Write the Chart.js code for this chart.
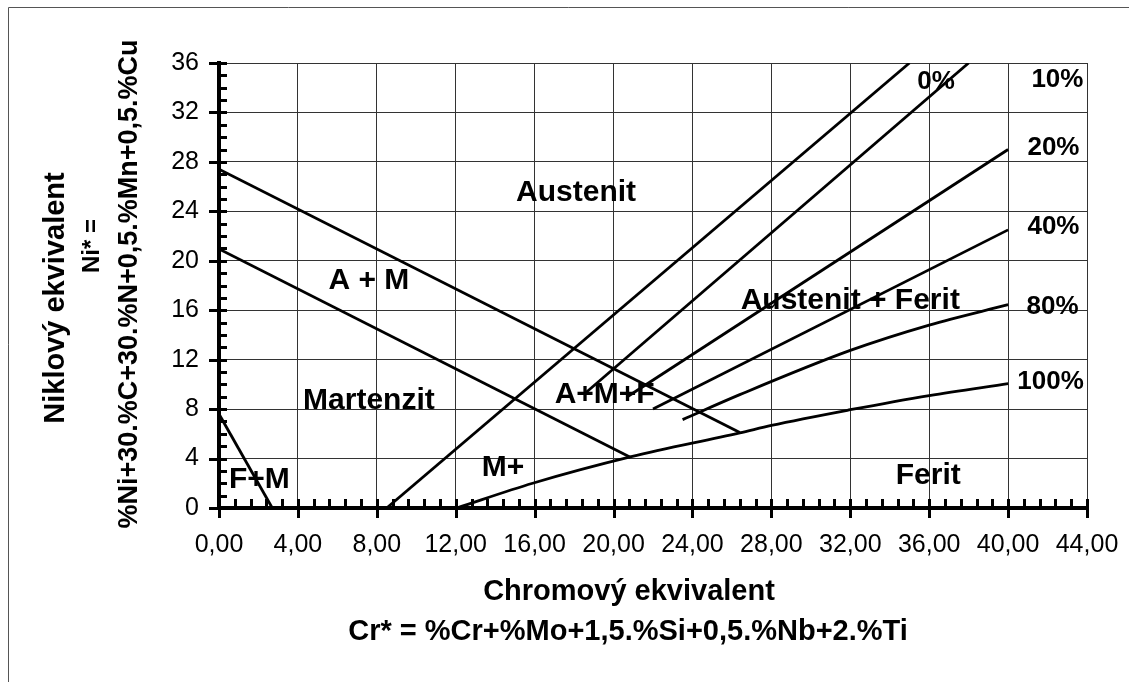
<!DOCTYPE html>
<html lang="cs">
<head>
<meta charset="UTF-8">
<title>Schaefflerův diagram</title>
<script src="https://cdn.jsdelivr.net/npm/chart.js@4.4.1/dist/chart.umd.min.js"></script>
<style>
  body { margin: 0; background: #fff; }
  #wrap { width: 1129px; height: 682px; }
</style>
</head>
<body>
<div id="wrap"><canvas id="diagram" width="1129" height="682"></canvas></div>
<script>
  // rozsah os (Cr*, Ni*)
  const crMin = 0, crMax = 44, crStep = 4;
  const niMin = 0, niMax = 36, niStep = 4;

  // hranice oblasti F+M
  const fmCr = [0, 2.7];
  const fmNi = [7.6, 0];
  // horni hranice A+M
  const amUpperCr = [0, 26.4];
  const amUpperNi = [27.4, 6.1];
  // dolni hranice A+M (martenzit)
  const amLowerCr = [0, 20.85];
  const amLowerNi = [20.95, 4.1];

  // cary obsahu feritu
  const fe0Cr = [8.5, 35.0];
  const fe0Ni = [0, 36];
  const fe10Cr = [18.5, 38.0];
  const fe10Ni = [9.2, 36];
  const fe20Cr = [20.7, 40];
  const fe20Ni = [9.0, 29.0];
  const fe40Cr = [22.0, 40];
  const fe40Ni = [8.0, 22.5];
  const fe80Cr = [23.5, 26.4, 32, 36, 40];
  const fe80Ni = [7.15, 9.17, 12.75, 14.8, 16.45];
  const fe100Cr = [12.05, 15.9, 20.9, 26.4, 28, 32, 36, 40];
  const fe100Ni = [0, 2.0, 4.15, 6.07, 6.68, 7.95, 9.1, 10.06];

  // popisky oblasti
  const regionNames = ['Austenit', 'A + M', 'Martenzit', 'F+M', 'M+', 'A+M+F', 'Austenit + Ferit', 'Ferit'];
  const regionCr = [18.1, 7.6, 7.6, 2.05, 14.4, 19.55, 32.0, 35.95];
  const regionNi = [25.5, 18.4, 8.7, 2.3, 3.25, 9.15, 16.8, 2.6];

  // popisky procent feritu
  const feNames = ['0%', '10%', '20%', '40%', '80%', '100%'];
  const feLabelCr = [36.35, 42.5, 42.3, 42.3, 42.25, 42.15];
  const feLabelNi = [34.45, 34.65, 29.15, 22.75, 16.25, 10.2];

  const pts = (xs, ys) => xs.map((v, i) => ({x: v, y: ys[i]}));

  const lineSet = (xs, ys, curved) => ({
    data: pts(xs, ys),
    showLine: true,
    borderColor: '#000',
    borderWidth: 2.8,
    pointRadius: 0,
    fill: false,
    cubicInterpolationMode: curved ? 'monotone' : 'default'
  });

  const FONT = '"Liberation Sans", Arial, sans-serif';

  // ramecek, popisy os
  const frameAndTitles = {
    id: 'frameAndTitles',
    beforeDraw(chart) {
      const ctx = chart.ctx;
      ctx.save();
      ctx.fillStyle = '#fff';
      ctx.fillRect(0, 0, chart.width, chart.height);
      ctx.strokeStyle = '#555';
      ctx.lineWidth = 1;
      ctx.beginPath();
      ctx.moveTo(8.5, chart.height);
      ctx.lineTo(8.5, 7.5);
      ctx.lineTo(chart.width, 7.5);
      ctx.stroke();
      ctx.restore();
    },
    afterDraw(chart) {
      const ctx = chart.ctx;
      ctx.save();
      ctx.fillStyle = '#000';
      ctx.textAlign = 'center';
      ctx.textBaseline = 'middle';
      ctx.font = 'bold 29px ' + FONT;
      ctx.fillText('Chromový ekvivalent', 629, 592);
      ctx.fillText('Cr* = %Cr+%Mo+1,5.%Si+0,5.%Nb+2.%Ti', 628, 632);

      const vert = (txt, x, y, size) => {
        ctx.save();
        ctx.translate(x, y);
        ctx.rotate(-Math.PI / 2);
        ctx.font = 'bold ' + size + 'px ' + FONT;
        ctx.fillText(txt, 0, 0);
        ctx.restore();
      };
      vert('Niklový ekvivalent', 56, 298, 29);
      vert('Ni* =', 92, 246, 24);
      vert('%Ni+30.%C+30.%N+0,5.%Mn+0,5.%Cu', 130, 284, 27);
      ctx.restore();
    }
  };

  // hlavni a vedlejsi znacky na osach
  const axisTicks = {
    id: 'axisTicks',
    afterDatasetsDraw(chart) {
      const {ctx, chartArea: a, scales: {x, y}} = chart;
      ctx.save();
      ctx.strokeStyle = '#000';
      ctx.lineWidth = 3;
      ctx.beginPath();
      for (let i = 0; i <= 55; i++) {
        const px = Math.round(x.getPixelForValue(i * 0.8)) + 0.5;
        const major = i % 5 === 0;
        ctx.moveTo(px, a.bottom - 9);
        ctx.lineTo(px, major ? a.bottom + 10 : a.bottom);
      }
      for (let i = 0; i <= 36; i++) {
        const py = Math.round(y.getPixelForValue(i)) + 0.5;
        const major = i % 4 === 0;
        ctx.moveTo(major ? a.left - 10 : a.left, py);
        ctx.lineTo(a.left + 8, py);
      }
      ctx.stroke();
      ctx.restore();
    }
  };

  // popisky oblasti a procent
  const regionLabels = {
    id: 'regionLabels',
    afterDatasetsDraw(chart) {
      const {ctx, scales: {x, y}} = chart;
      ctx.save();
      ctx.fillStyle = '#000';
      ctx.textAlign = 'center';
      ctx.textBaseline = 'middle';
      ctx.font = 'bold 30px ' + FONT;
      regionNames.forEach((t, i) => {
        ctx.fillText(t, x.getPixelForValue(regionCr[i]), y.getPixelForValue(regionNi[i]));
      });
      ctx.font = 'bold 26px ' + FONT;
      feNames.forEach((t, i) => {
        ctx.fillText(t, x.getPixelForValue(feLabelCr[i]), y.getPixelForValue(feLabelNi[i]));
      });
      ctx.restore();
    }
  };

  new Chart(document.getElementById('diagram'), {
    type: 'scatter',
    data: {
      datasets: [
        lineSet(fmCr, fmNi),
        lineSet(amUpperCr, amUpperNi),
        lineSet(amLowerCr, amLowerNi),
        lineSet(fe0Cr, fe0Ni),
        lineSet(fe10Cr, fe10Ni),
        lineSet(fe20Cr, fe20Ni),
        lineSet(fe40Cr, fe40Ni),
        lineSet(fe80Cr, fe80Ni, true),
        lineSet(fe100Cr, fe100Ni, true)
      ]
    },
    options: {
      responsive: false,
      animation: false,
      devicePixelRatio: 1,
      layout: { padding: { left: 0, right: 42, top: 63, bottom: 0 } },
      plugins: { legend: { display: false }, tooltip: { enabled: false } },
      scales: {
        x: {
          type: 'linear',
          min: crMin, max: crMax,
          afterFit: s => { s.height = 174; s.paddingLeft = 0; s.paddingRight = 0; },
          ticks: {
            stepSize: crStep,
            padding: 22,
            color: '#000',
            font: { family: FONT, size: 25 },
            callback: v => v.toFixed(2).replace('.', ',')
          },
          grid: { color: '#333', lineWidth: 1, drawTicks: false },
          border: { display: true, color: '#000', width: 4 }
        },
        y: {
          type: 'linear',
          min: niMin, max: niMax,
          afterFit: s => { s.width = 219; },
          ticks: {
            stepSize: niStep,
            padding: 20,
            color: '#000',
            font: { family: FONT, size: 25 }
          },
          grid: { color: '#333', lineWidth: 1, drawTicks: false },
          border: { display: true, color: '#000', width: 4 }
        }
      }
    },
    plugins: [frameAndTitles, axisTicks, regionLabels]
  });
</script>
</body>
</html>
